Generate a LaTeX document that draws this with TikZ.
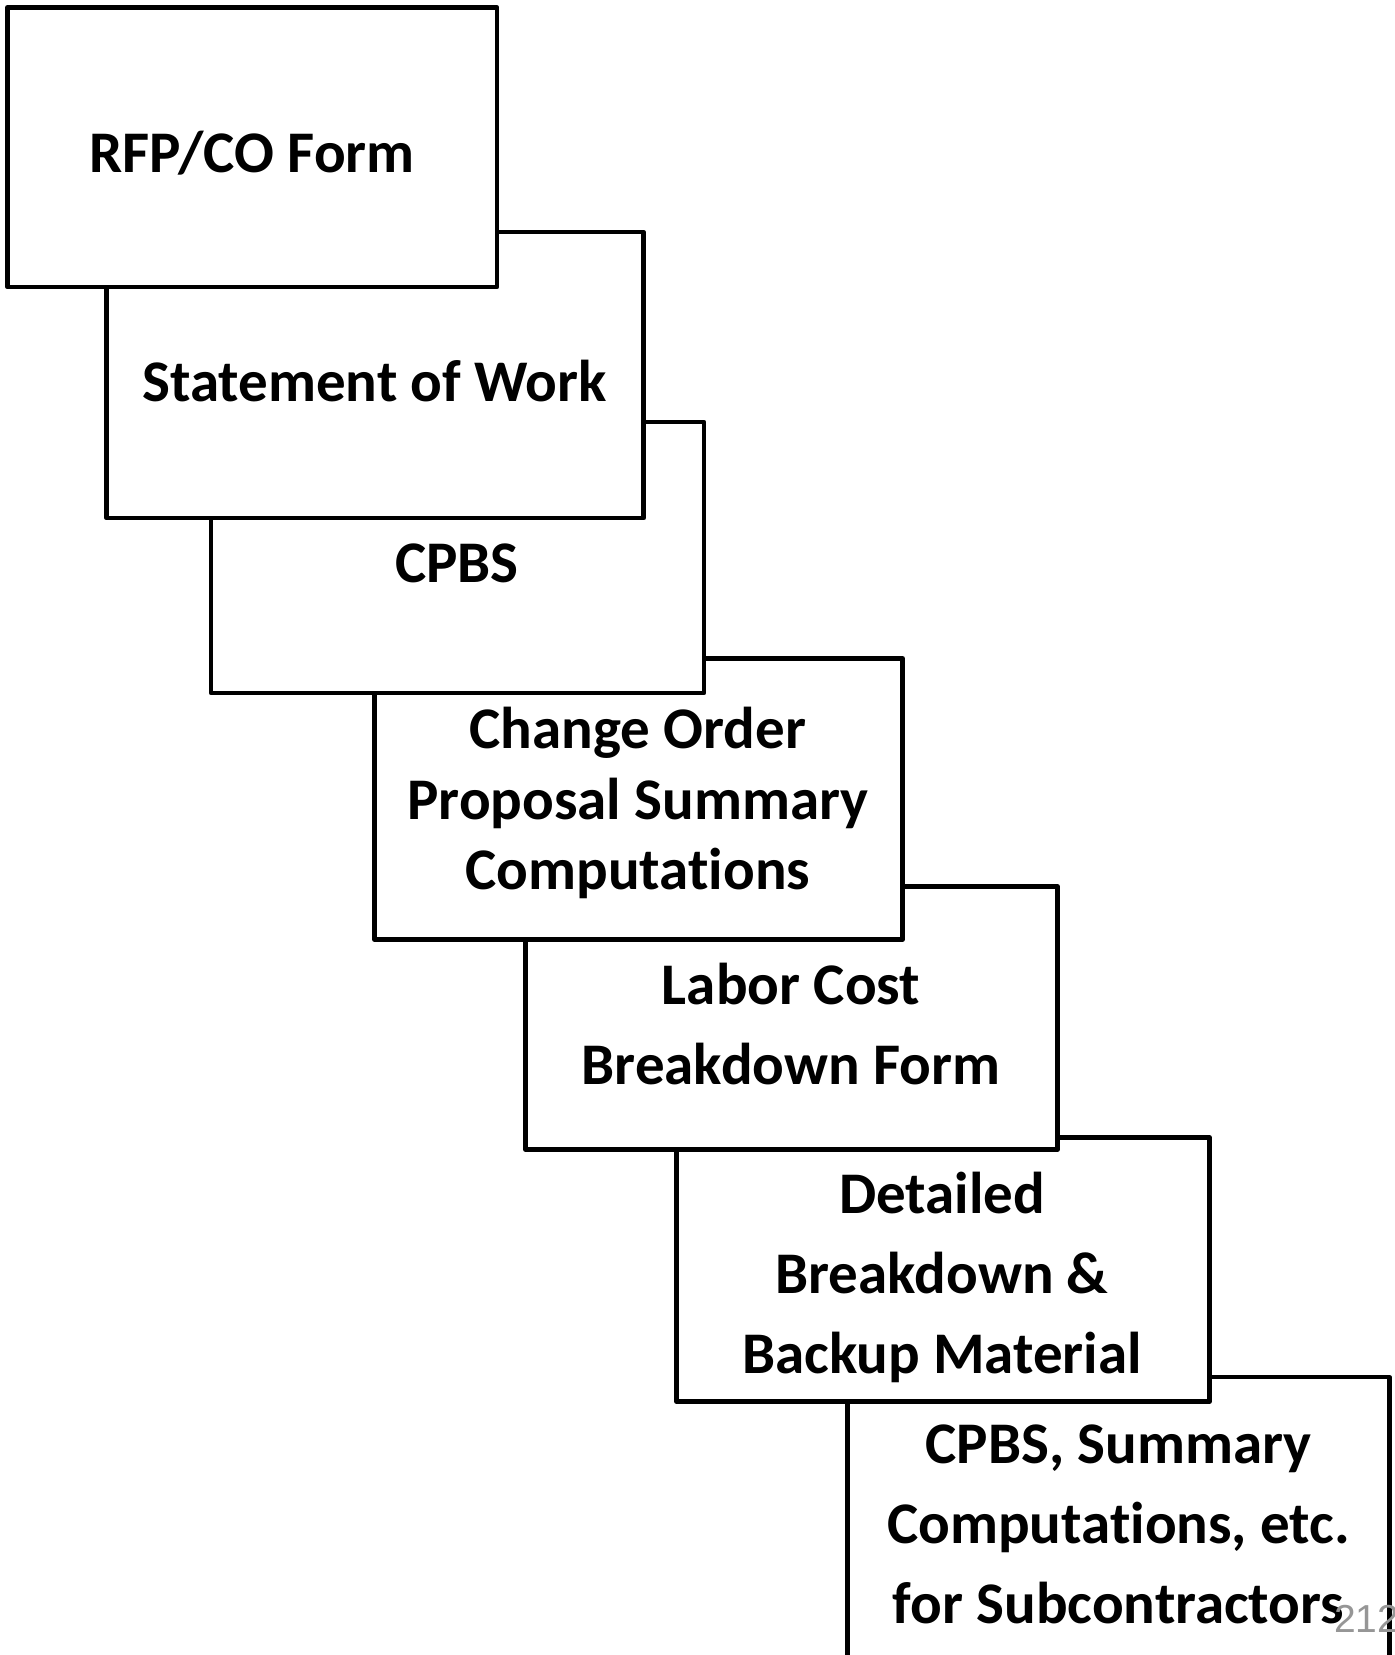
\documentclass[tikz,border=0pt]{standalone}
\usepackage{fontspec}
\setmainfont[Ligatures=NoCommon]{Carlito}
\newfontfamily\numfont{Liberation Sans}
\definecolor{pagenum}{RGB}{150,150,150}
\begin{document}
\begin{tikzpicture}[x=1pt,y=-1pt,
  card/.style={draw=black, line width=4.6pt, fill=white, line join=round,
    inner sep=0pt, outer sep=0pt, anchor=north west, rectangle},
  lbl/.style={font=\fontsize{59}{80}\selectfont\bfseries, align=center, inner sep=0pt}]
\clip (0,0) rectangle (1395,1655);
% box 7
\node[card, minimum width=542pt, minimum height=400pt] (b7) at (847.3,1377.1) {};
\node[lbl] (t7) at (1118.5,1524) {CPBS, Summary\\Computations, etc.\\for Subcontractors};
\node[font=\fontsize{39}{44}\selectfont\numfont, text=pagenum, anchor=base west, inner sep=0pt] (pg) at (1334,1632) {212};
% box 6
\node[card, minimum width=533pt, minimum height=264pt] (b6) at (676.4,1137.5) {};
\node[lbl] (t6) at (942,1277) {Detailed\\Breakdown \&\\Backup Material};
% box 5
\node[card, minimum width=532pt, minimum height=263pt] (b5) at (525.5,886.4) {};
\node[lbl] (t5) at (791,1024) {Labor Cost\\Breakdown Form};
% box 4
\node[card, minimum width=528pt, minimum height=281pt] (b4) at (374.6,658.4) {};
\node[lbl, font=\fontsize{59}{70.7}\selectfont\bfseries] (t4) at (638,803) {Change Order\\Proposal Summary\\Computations};
% box 3
\node[card, minimum width=493pt, minimum height=271pt] (b3) at (211,422.1) {};
\node[lbl] (t3) at (457,563) {CPBS};
% box 2
\node[card, minimum width=537pt, minimum height=286pt] (b2) at (106.6,232.1) {};
\node[lbl] (t2) at (374.6,381) {Statement of Work};
% box 1
\node[card, minimum width=489.6pt, minimum height=279.6pt] (b1) at (7.4,7.4) {};
\node[lbl] (t1) at (252,153) {RFP/CO Form};
\end{tikzpicture}
\end{document}
